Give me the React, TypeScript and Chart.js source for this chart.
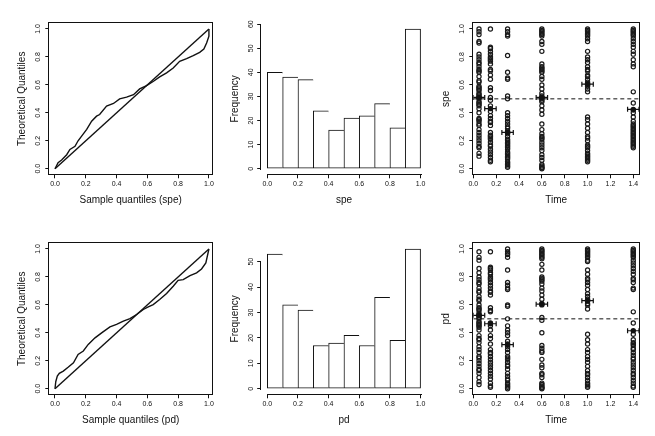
import React, { useEffect, useRef } from "react";
import { Chart, registerables } from "chart.js";

Chart.register(...registerables);

// ---------------- data ----------------
const UNIT_TICKS = [0, 0.2, 0.4, 0.6, 0.8, 1.0];
const TIME_TICKS = [0, 0.2, 0.4, 0.6, 0.8, 1.0, 1.2, 1.4];
const SPE_FREQ_TICKS = [0, 10, 20, 30, 40, 50, 60];
const PD_FREQ_TICKS = [0, 10, 20, 30, 40, 50];

const BIN_MIDS = [0.05, 0.15, 0.25, 0.35, 0.45, 0.55, 0.65, 0.75, 0.85, 0.95];
const SPE_COUNTS = [40, 38, 37, 24, 16, 21, 22, 27, 17, 58];
const PD_COUNTS = [53, 33, 31, 17, 18, 21, 17, 36, 19, 55];

const QQ_SPE_SAMPLE = [0, 0.02, 0.043, 0.076, 0.097, 0.13, 0.15, 0.173, 0.206, 0.238, 0.27, 0.29, 0.335, 0.38, 0.42, 0.465, 0.51, 0.55, 0.595, 0.64, 0.68, 0.725, 0.768, 0.81, 0.855, 0.898, 0.94, 0.967, 0.985, 1.0, 1.0];
const QQ_SPE_THEORETICAL = [0, 0.043, 0.062, 0.1, 0.138, 0.16, 0.2, 0.233, 0.281, 0.34, 0.376, 0.388, 0.448, 0.467, 0.5, 0.512, 0.53, 0.571, 0.595, 0.626, 0.657, 0.686, 0.721, 0.769, 0.788, 0.81, 0.833, 0.857, 0.9, 0.948, 1.0];
const QQ_PD_SAMPLE = [0, 0.005, 0.015, 0.028, 0.054, 0.087, 0.12, 0.15, 0.184, 0.216, 0.26, 0.303, 0.357, 0.4, 0.444, 0.487, 0.53, 0.574, 0.606, 0.638, 0.68, 0.725, 0.768, 0.8, 0.833, 0.877, 0.92, 0.952, 0.98, 1.0];
const QQ_PD_THEORETICAL = [0, 0.05, 0.09, 0.11, 0.126, 0.155, 0.186, 0.245, 0.27, 0.317, 0.364, 0.4, 0.443, 0.46, 0.483, 0.502, 0.531, 0.567, 0.586, 0.602, 0.638, 0.681, 0.733, 0.776, 0.781, 0.81, 0.829, 0.857, 0.9, 1.0];
const QQ_REFERENCE = [0, 1];

const TIMES = [0.05, 0.15, 0.3, 0.6, 1.0, 1.4];
const TIME_SPREAD = 0.05;
const REFERENCE_LEVEL = 0.5;

const SPE_T005 = [1.0, 0.98, 0.96, 0.91, 0.9, 0.82, 0.8, 0.78, 0.76, 0.75, 0.73, 0.71, 0.7, 0.69, 0.66, 0.63, 0.62, 0.59, 0.58, 0.57, 0.56, 0.54, 0.53, 0.52, 0.51, 0.5, 0.48, 0.47, 0.46, 0.45, 0.43, 0.4, 0.36, 0.35, 0.34, 0.32, 0.31, 0.28, 0.26, 0.24, 0.22, 0.2, 0.18, 0.16, 0.15, 0.11, 0.09];
const SPE_T015 = [1.0, 0.87, 0.86, 0.84, 0.82, 0.8, 0.79, 0.78, 0.77, 0.75, 0.71, 0.7, 0.67, 0.64, 0.58, 0.56, 0.51, 0.49, 0.45, 0.41, 0.38, 0.36, 0.34, 0.33, 0.31, 0.26, 0.24, 0.23, 0.22, 0.21, 0.19, 0.17, 0.16, 0.14, 0.12, 0.1, 0.08, 0.06, 0.05];
const SPE_T030 = [1.0, 0.98, 0.96, 0.95, 0.81, 0.69, 0.65, 0.64, 0.52, 0.5, 0.4, 0.38, 0.36, 0.34, 0.32, 0.3, 0.29, 0.27, 0.26, 0.25, 0.23, 0.21, 0.2, 0.19, 0.18, 0.17, 0.16, 0.15, 0.14, 0.12, 0.11, 0.1, 0.09, 0.08, 0.07, 0.05, 0.04, 0.03, 0.02, 0.01];
const SPE_T060 = [1.0, 0.99, 0.98, 0.97, 0.96, 0.95, 0.91, 0.89, 0.84, 0.75, 0.73, 0.72, 0.71, 0.7, 0.69, 0.66, 0.64, 0.6, 0.57, 0.54, 0.52, 0.51, 0.5, 0.49, 0.48, 0.45, 0.42, 0.39, 0.32, 0.28, 0.25, 0.23, 0.22, 0.21, 0.19, 0.17, 0.15, 0.13, 0.1, 0.08, 0.06, 0.03, 0.02, 0.01, 0.005, 0.0];
const SPE_T100 = [1.0, 0.99, 0.98, 0.97, 0.96, 0.95, 0.93, 0.91, 0.84, 0.8, 0.78, 0.76, 0.73, 0.71, 0.7, 0.67, 0.66, 0.64, 0.62, 0.61, 0.6, 0.59, 0.57, 0.55, 0.37, 0.35, 0.32, 0.29, 0.26, 0.23, 0.22, 0.2, 0.17, 0.16, 0.15, 0.13, 0.11, 0.1, 0.09, 0.08, 0.07, 0.06, 0.05];
const SPE_T140 = [1.0, 0.99, 0.98, 0.97, 0.96, 0.95, 0.93, 0.91, 0.89, 0.87, 0.84, 0.82, 0.78, 0.75, 0.73, 0.55, 0.47, 0.42, 0.4, 0.37, 0.34, 0.32, 0.31, 0.3, 0.29, 0.28, 0.27, 0.26, 0.25, 0.24, 0.23, 0.22, 0.21, 0.2, 0.19, 0.18, 0.17, 0.16, 0.15];
const SPE_MEANS = [0.51, 0.43, 0.26, 0.51, 0.605, 0.425];

const PD_T005 = [0.98, 0.94, 0.92, 0.86, 0.83, 0.8, 0.78, 0.76, 0.75, 0.72, 0.7, 0.69, 0.66, 0.64, 0.63, 0.6, 0.58, 0.57, 0.56, 0.54, 0.53, 0.52, 0.51, 0.5, 0.48, 0.47, 0.46, 0.45, 0.44, 0.42, 0.38, 0.36, 0.35, 0.33, 0.3, 0.28, 0.26, 0.23, 0.22, 0.2, 0.18, 0.16, 0.14, 0.13, 0.11, 0.08, 0.05, 0.03];
const PD_T015 = [0.98, 0.87, 0.86, 0.85, 0.83, 0.82, 0.8, 0.79, 0.78, 0.76, 0.74, 0.72, 0.7, 0.69, 0.67, 0.58, 0.56, 0.55, 0.47, 0.45, 0.42, 0.38, 0.36, 0.32, 0.28, 0.26, 0.25, 0.23, 0.21, 0.19, 0.17, 0.15, 0.13, 0.11, 0.09, 0.07, 0.04, 0.02, 0.01];
const PD_T030 = [1.0, 0.98, 0.97, 0.96, 0.94, 0.85, 0.76, 0.74, 0.72, 0.71, 0.6, 0.59, 0.5, 0.45, 0.42, 0.4, 0.38, 0.34, 0.32, 0.3, 0.28, 0.26, 0.23, 0.22, 0.21, 0.19, 0.17, 0.16, 0.14, 0.11, 0.09, 0.07, 0.06, 0.04, 0.03, 0.02, 0.01, 0.0];
const PD_T060 = [1.0, 0.99, 0.98, 0.97, 0.96, 0.95, 0.94, 0.93, 0.89, 0.85, 0.8, 0.79, 0.78, 0.77, 0.75, 0.72, 0.7, 0.67, 0.64, 0.61, 0.6, 0.51, 0.49, 0.4, 0.31, 0.29, 0.27, 0.26, 0.21, 0.17, 0.15, 0.11, 0.1, 0.08, 0.04, 0.03, 0.02, 0.01, 0.005, 0.0];
const PD_T100 = [1.0, 0.99, 0.98, 0.97, 0.96, 0.95, 0.94, 0.92, 0.91, 0.85, 0.82, 0.79, 0.78, 0.76, 0.74, 0.71, 0.68, 0.66, 0.64, 0.63, 0.61, 0.6, 0.57, 0.39, 0.35, 0.32, 0.28, 0.26, 0.23, 0.21, 0.19, 0.16, 0.13, 0.11, 0.1, 0.08, 0.06, 0.04, 0.03, 0.02, 0.01];
const PD_T140 = [1.0, 0.99, 0.98, 0.97, 0.96, 0.95, 0.94, 0.92, 0.9, 0.88, 0.86, 0.84, 0.82, 0.79, 0.78, 0.76, 0.72, 0.71, 0.55, 0.47, 0.39, 0.35, 0.33, 0.32, 0.31, 0.29, 0.28, 0.26, 0.24, 0.22, 0.21, 0.19, 0.17, 0.15, 0.13, 0.11, 0.1, 0.08, 0.06, 0.04, 0.02, 0.01];
const PD_MEANS = [0.525, 0.465, 0.315, 0.605, 0.63, 0.415];

const SPE_GROUPS = [SPE_T005, SPE_T015, SPE_T030, SPE_T060, SPE_T100, SPE_T140];
const PD_GROUPS = [PD_T005, PD_T015, PD_T030, PD_T060, PD_T100, PD_T140];

// ---------------- styling / layout ----------------
const FAMILY = "'Liberation Sans', Arial, Helvetica, sans-serif";
const INK = "#111";
const TITLE_SIZE = 10;
const TICK_SIZE = 7;
const TITLE_LH = TITLE_SIZE * 1.2;

type Cell = { l: number; t: number; w: number; h: number };
type Box = { l: number; t: number; r: number; b: number };

const COLS = [
  { l: 0, w: 218, boxL: 49.3, boxR: 212, yTitleX: 22.7 },
  { l: 218, w: 219, boxL: 261.2, boxR: 426.7, yTitleX: 17 },
  { l: 437, w: 218, boxL: 473.3, boxR: 639, yTitleX: 9.2 },
];
const ROWS = [
  { t: 0, h: 220, boxT: 23.4, boxB: 174.3, xTitleY: 200 },
  { t: 220, h: 216, boxT: 243.4, boxB: 394.3, xTitleY: 200 },
];

const fmt1 = (v: any) => Number(v).toFixed(1);
const fmt0 = (v: any) => String(Math.round(Number(v)));

// full box around the plotting region (R's box())
const boxPlugin = {
  id: "rBox",
  afterDatasetsDraw(chart: any) {
    const { ctx, chartArea: a } = chart;
    ctx.save();
    ctx.strokeStyle = INK;
    ctx.lineWidth = 1;
    ctx.setLineDash([]);
    const l = Math.round(a.left) - 0.5;
    const r = Math.round(a.right) + 0.5;
    const t = Math.round(a.top) - 0.5;
    const b = Math.round(a.bottom) + 0.5;
    ctx.strokeRect(l, t, r - l, b - t);
    ctx.restore();
  },
};

// R-style axis lines that only span first..last tick
const axisLinePlugin = {
  id: "rAxisLines",
  afterDatasetsDraw(chart: any) {
    const { ctx, chartArea: a } = chart;
    const xs = chart.scales.x;
    const ys = chart.scales.y;
    const xt = xs.ticks;
    const yt = ys.ticks;
    if (!xt.length || !yt.length) return;
    ctx.save();
    ctx.strokeStyle = INK;
    ctx.lineWidth = 1;
    ctx.setLineDash([]);
    const yLine = Math.round(a.bottom) + 0.5;
    const xLine = Math.round(a.left) - 0.5;
    ctx.beginPath();
    ctx.moveTo(Math.round(xs.getPixelForValue(xt[0].value)), yLine);
    ctx.lineTo(Math.round(xs.getPixelForValue(xt[xt.length - 1].value)) + 1, yLine);
    ctx.moveTo(xLine, Math.round(ys.getPixelForValue(yt[0].value)) + 1);
    ctx.lineTo(xLine, Math.round(ys.getPixelForValue(yt[yt.length - 1].value)));
    ctx.stroke();
    ctx.restore();
  },
};

function xScale(min: number, max: number, ticks: number[], fmt: any, title: string, cell: Cell, box: Box, titleY: number) {
  return {
    type: "linear",
    position: "bottom",
    min,
    max,
    bounds: "data",
    offset: false,
    afterBuildTicks: (s: any) => {
      s.ticks = ticks.map((v) => ({ value: v }));
    },
    afterFit: (s: any) => {
      s.height = cell.t + cell.h - box.b;
    },
    grid: { display: true, drawOnChartArea: false, drawTicks: true, tickLength: 4, color: INK, lineWidth: 1, offset: false },
    border: { display: false },
    ticks: { autoSkip: false, maxRotation: 0, minRotation: 0, padding: 1.5, color: INK, font: { family: FAMILY, size: TICK_SIZE }, callback: fmt },
    title: { display: true, text: title, color: INK, font: { family: FAMILY, size: TITLE_SIZE }, padding: { top: 0, bottom: cell.h - titleY - TITLE_LH / 2 } },
  };
}

function yScale(min: number, max: number, ticks: number[], fmt: any, title: string, cell: Cell, box: Box, titleX: number) {
  return {
    type: "linear",
    position: "left",
    min,
    max,
    bounds: "data",
    afterBuildTicks: (s: any) => {
      s.ticks = ticks.map((v) => ({ value: v }));
    },
    afterFit: (s: any) => {
      s.width = box.l - cell.l;
    },
    grid: { display: true, drawOnChartArea: false, drawTicks: true, tickLength: 4, color: INK, lineWidth: 1 },
    border: { display: false },
    ticks: { autoSkip: false, minRotation: 90, maxRotation: 90, align: "center", crossAlign: "center", padding: 2.5, color: INK, font: { family: FAMILY, size: TICK_SIZE }, callback: fmt },
    title: { display: true, text: title, color: INK, font: { family: FAMILY, size: TITLE_SIZE }, padding: { top: titleX - TITLE_LH / 2, bottom: 0 } },
  };
}

function baseOptions(cell: Cell, box: Box, scales: any) {
  return {
    responsive: false,
    maintainAspectRatio: false,
    animation: false,
    devicePixelRatio: 1,
    events: [],
    layout: { padding: { left: 0, bottom: 0, top: box.t - cell.t, right: cell.l + cell.w - box.r } },
    plugins: { legend: { display: false }, tooltip: { enabled: false }, title: { display: false } },
    scales,
  };
}

function cellOf(col: number, row: number) {
  const c = COLS[col];
  const r = ROWS[row];
  const cell: Cell = { l: c.l, t: r.t, w: c.w, h: r.h };
  const box: Box = { l: c.boxL, r: c.boxR, t: r.boxT, b: r.boxB };
  return { cell, box, titleX: c.yTitleX, titleY: r.xTitleY };
}

function qqConfig(row: number, sample: number[], theo: number[], xTitle: string) {
  const { cell, box, titleX, titleY } = cellOf(0, row);
  return {
    cell,
    config: {
      type: "scatter",
      data: {
        datasets: [
          {
            data: sample.map((x, i) => ({ x, y: theo[i] })),
            showLine: true,
            borderColor: INK,
            borderWidth: 1.4,
            pointRadius: 0,
            tension: 0,
          },
          {
            data: QQ_REFERENCE.map((v) => ({ x: v, y: v })),
            showLine: true,
            borderColor: INK,
            borderWidth: 1.4,
            pointRadius: 0,
          },
        ],
      },
      options: baseOptions(cell, box, {
        x: xScale(-0.037, 1.02, UNIT_TICKS, fmt1, xTitle, cell, box, titleY),
        y: yScale(-0.04, 1.04, UNIT_TICKS, fmt1, "Theoretical Quantiles", cell, box, titleX),
      }),
      plugins: [boxPlugin],
    },
  };
}

function histConfig(row: number, counts: number[], yTicks: number[], xTitle: string) {
  const { cell, box, titleX, titleY } = cellOf(1, row);
  const top = Math.max(...counts);
  return {
    cell,
    config: {
      type: "bar",
      data: {
        datasets: [
          {
            data: BIN_MIDS.map((x, i) => ({ x, y: counts[i] })),
            backgroundColor: "#ffffff",
            borderColor: INK,
            borderSkipped: false,
            borderWidth: (ctx: any) => ({ top: 1, bottom: 1, left: 1, right: ctx.dataIndex === counts.length - 1 ? 1 : 0 }),
            barPercentage: 1,
            categoryPercentage: 1,
          },
        ],
      },
      options: baseOptions(cell, box, {
        x: xScale(-0.04, 1.04, UNIT_TICKS, fmt1, xTitle, cell, box, titleY),
        y: yScale(-0.04 * top, 1.04 * top, yTicks, fmt0, "Frequency", cell, box, titleX),
      }),
      plugins: [axisLinePlugin],
    },
  };
}

function timeConfig(row: number, groups: number[][], means: number[], yTitle: string) {
  const { cell, box, titleX, titleY } = cellOf(2, row);
  const points: { x: number; y: number }[] = [];
  groups.forEach((g, i) => g.forEach((y) => points.push({ x: TIMES[i], y })));
  const bars = TIMES.map((t, i) => ({
    data: [
      { x: t - TIME_SPREAD, y: means[i] },
      { x: t + TIME_SPREAD, y: means[i] },
    ],
    showLine: true,
    borderColor: INK,
    borderWidth: 1.2,
    pointStyle: "line",
    rotation: 90,
    pointRadius: 2.5,
    pointBorderWidth: 1.2,
    pointBorderColor: INK,
  }));
  return {
    cell,
    config: {
      type: "scatter",
      data: {
        datasets: [
          {
            data: TIMES.map((t, i) => ({ x: t, y: means[i] })),
            pointRadius: 2.7,
            pointBackgroundColor: INK,
            pointBorderColor: INK,
            pointBorderWidth: 0,
          },
          ...bars,
          {
            data: [
              { x: TIME_TICKS[0], y: REFERENCE_LEVEL },
              { x: 1.45, y: REFERENCE_LEVEL },
            ],
            showLine: true,
            borderColor: INK,
            borderWidth: 1,
            borderDash: [4, 3],
            pointRadius: 0,
          },
          {
            data: points,
            pointRadius: 2.1,
            pointBorderWidth: 1.2,
            pointBorderColor: "#1a1a1a",
            pointBackgroundColor: "rgba(0,0,0,0)",
          },
        ],
      },
      options: baseOptions(cell, box, {
        x: xScale(0, 1.45, TIME_TICKS, fmt1, "Time", cell, box, titleY),
        y: yScale(-0.04, 1.04, UNIT_TICKS, fmt1, yTitle, cell, box, titleX),
      }),
      plugins: [boxPlugin],
    },
  };
}

function Panel({ spec }: { spec: { cell: Cell; config: any } }) {
  const ref = useRef<HTMLCanvasElement>(null);
  useEffect(() => {
    const chart = new Chart(ref.current as HTMLCanvasElement, spec.config);
    return () => chart.destroy();
  }, []);
  const { cell } = spec;
  return (
    <canvas
      ref={ref}
      width={cell.w}
      height={cell.h}
      style={{ position: "absolute", left: cell.l, top: cell.t, width: cell.w, height: cell.h }}
    />
  );
}

const SPECS = [
  qqConfig(0, QQ_SPE_SAMPLE, QQ_SPE_THEORETICAL, "Sample quantiles (spe)"),
  histConfig(0, SPE_COUNTS, SPE_FREQ_TICKS, "spe"),
  timeConfig(0, SPE_GROUPS, SPE_MEANS, "spe"),
  qqConfig(1, QQ_PD_SAMPLE, QQ_PD_THEORETICAL, "Sample quantiles (pd)"),
  histConfig(1, PD_COUNTS, PD_FREQ_TICKS, "pd"),
  timeConfig(1, PD_GROUPS, PD_MEANS, "pd"),
];

export default function App() {
  return (
    <div style={{ position: "absolute", left: 0, top: 0, width: 655, height: 436, background: "#fff", overflow: "hidden" }}>
      {SPECS.map((s, i) => (
        <Panel key={i} spec={s} />
      ))}
    </div>
  );
}
